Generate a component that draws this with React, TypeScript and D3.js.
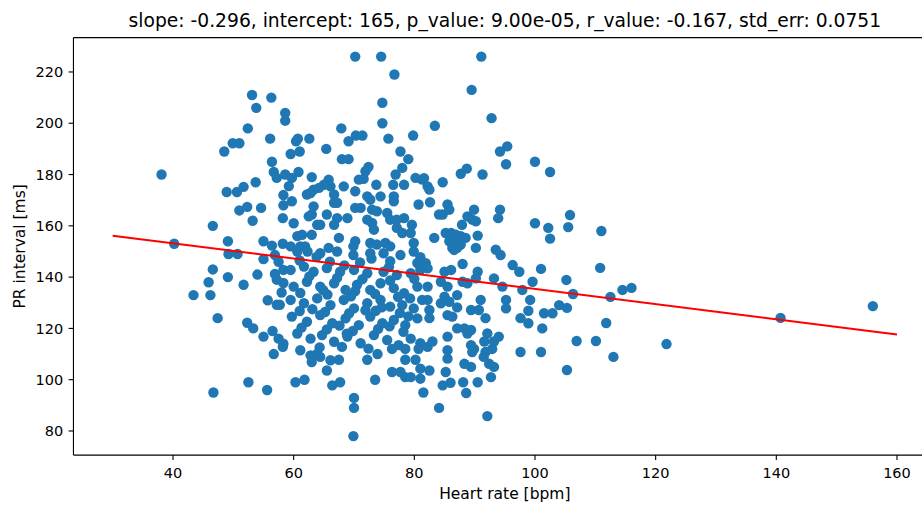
import React from "react";
import * as d3 from "d3";

// Heart rate [bpm] and PR interval [ms] per recording (same index = same subject)
const heartRate = [
  38.1, 40.2, 43.4, 45.9, 46.6, 46.7, 46.6, 47.4, 48.5, 48.9,
  49.1, 49.1, 49.9, 51.0, 49.2, 50.7, 53.1, 56.3, 53.8, 58.6,
  58.6, 52.4, 56.1, 56.4, 56.7, 57.2, 58.6, 50.6, 51.7, 53.7,
  58.3, 51.0, 52.3, 54.6, 58.3, 53.2, 58.2, 55.0, 56.4, 58.2,
  46.2, 51.7, 54.0, 55.0, 56.9, 57.5, 56.9, 57.2, 58.3, 58.3,
  55.7, 57.2, 57.7, 58.0, 52.3, 53.3, 55.0, 56.5, 57.5, 58.3,
  56.7, 58.2, 52.5, 55.6,
  70.2, 74.5, 76.7, 74.7, 74.7, 67.9, 69.1, 70.3, 71.4, 75.7,
  79.8, 77.7, 65.4, 62.6, 60.7, 60.4, 61.0, 59.5,
  91.1, 89.5, 92.8, 83.4, 95.4, 94.2,
  68.0, 69.1, 79.0, 72.4, 71.9, 70.8, 71.6, 78.0, 76.9, 80.2,
  81.3, 78.3, 76.5, 73.7, 60.8, 59.7, 63.0, 59.2, 65.8, 65.0,
  64.2, 63.3, 62.2, 62.8, 66.1, 66.7, 68.3, 70.2, 72.2, 72.7,
  74.4, 76.6, 76.6, 80.7, 66.7, 67.2, 63.3, 63.0, 62.5, 59.7,
  65.5, 67.2, 68.9, 70.2, 71.1, 73.0, 73.8, 72.2, 73.0, 73.3,
  75.5, 76.0, 77.1, 78.3, 79.6, 77.1, 78.0, 79.4, 60.0, 63.9,
  64.4, 66.7, 61.4, 60.6, 63.0, 67.5, 70.2, 69.9, 72.7, 73.8,
  75.2, 76.0, 79.9, 59.5, 61.1, 61.9, 65.8,
  95.2, 100.0, 102.5, 87.7, 88.7, 91.3, 81.6, 82.2, 82.5, 84.7,
  82.6, 85.5, 85.8, 84.1, 84.7, 89.9, 88.8, 89.6, 90.2, 87.9,
  94.2, 93.9, 100.0, 102.2, 102.5, 83.3, 85.2, 86.1, 86.9, 87.7,
  88.5, 90.5, 85.8, 86.9, 87.7, 86.3, 87.1, 90.2, 93.5,
  60.6, 62.3, 64.4, 67.2, 69.9, 72.7, 74.9, 77.7, 79.9, 81.0,
  59.5, 61.7, 63.3, 65.5, 67.7, 70.0, 72.2, 74.9, 77.1, 79.4, 81.0,
  60.0, 62.2, 64.4, 66.7, 68.6, 70.5, 72.7, 74.4, 76.6, 78.3, 80.5,
  59.5, 61.7, 63.9, 66.1, 68.3, 70.0, 72.2, 74.4, 76.0, 78.0, 79.9, 81.3,
  59.7, 62.2, 64.4, 66.4, 68.6, 70.8, 72.7, 74.7, 76.6, 78.5, 80.5,
  60.6, 62.8, 64.7, 66.7, 68.9, 71.1, 73.3, 75.5, 77.4, 79.4, 81.0,
  61.0, 66.0, 71.0, 76.0, 80.5, 62.6, 67.2, 71.4, 76.0, 80.0,
  61.1, 65.6, 69.5, 73.5, 77.3, 61.0, 65.2, 69.2, 73.6, 77.6,
  61.3, 65.5, 69.8, 74.0, 78.2,
  63.8, 68.4, 72.9, 75.8, 64.9, 70.2, 74.6, 79.0, 63.1, 67.6,
  71.9, 75.9, 64.3, 68.8, 72.4, 79.3,
  61.1, 62.8, 63.9, 64.4, 63.0, 66.1, 67.5, 65.5, 60.3, 61.8,
  66.4, 67.7, 70.0, 70.0, 69.9, 68.0, 72.2, 73.9, 73.5, 76.3,
  78.5, 80.7, 78.5, 80.2, 76.3, 77.7, 78.5, 79.4, 81.0, 81.0, 81.5,
  82.2, 85.5, 85.5, 89.9, 89.6, 91.8, 91.5, 92.9, 97.6, 101.0,
  82.5, 85.2, 88.3, 89.4, 92.4, 93.2, 84.7, 86.0, 88.1, 90.5,
  92.7, 88.6, 84.1, 92.1,
  86.6, 94.3, 88.0, 81.9, 82.2, 85.0, 86.1, 90.5, 90.2, 96.3,
  97.4, 101.0, 82.2, 84.4, 85.5, 88.0, 88.8, 93.2, 94.6, 97.9,
  99.6, 85.0, 84.4, 85.8, 87.1, 82.2, 82.5, 91.0, 95.2, 95.2,
  99.2, 98.9, 101.5, 102.9, 104.0, 85.5, 86.3, 87.1, 89.4, 90.7,
  91.8, 97.6, 98.9, 82.5, 101.2, 87.1, 88.3, 89.4, 88.8, 92.1,
  94.0, 85.5, 83.0, 91.6, 93.2, 89.4,
  105.8, 105.5, 105.2, 106.3, 105.3, 105.3, 106.9, 110.1, 110.8, 111.0,
  111.8, 112.5, 113.0, 114.5, 116.0, 121.8, 140.7, 156.0,
];

const prInterval = [
  180, 153, 133, 138, 143, 95, 160, 124, 189, 173.2,
  154, 140, 192.2, 192.2, 149, 149, 211, 210, 206, 204,
  201, 198, 194, 185, 181, 178.7, 180, 173.2, 175.2, 177,
  172, 166, 167.4, 167, 168, 162, 163, 154, 152.3, 153,
  133, 137, 141, 147, 148.6, 146, 141.2, 139, 142.8, 137.7,
  131, 129.2, 129.2, 134, 122.2, 120, 116.8, 119, 116, 114,
  110, 112.8, 99, 96,
  226, 226, 219, 208, 200, 198, 193, 195.2, 195.2, 194,
  195.2, 189, 190, 194, 194, 193, 189, 188,
  226, 213, 202, 199, 191, 189,
  186, 186, 186, 183, 181.3, 178, 178.3, 182.6, 180, 178.7,
  178, 176, 176, 176, 181, 178.7, 179, 175.5, 178, 176,
  174.8, 174.1, 172.2, 172.8, 175.4, 172.2, 175.4, 173.5, 171.5, 170.2,
  171.5, 171.5, 169.6, 168.3, 169, 169, 167.6, 164.4, 163.7, 169.6,
  164.4, 163, 163, 167, 167, 166.3, 165.7, 162.4, 161.1, 158.5,
  165, 162.4, 162.4, 163, 160.4, 159.2, 157.2, 157.2, 161, 160.4,
  160.4, 160.4, 156.5, 156, 156.5, 155.3, 154, 152, 153.3, 152.7,
  153.3, 152, 153.3, 152, 152, 152, 151.4,
  184, 185, 181, 180.3, 182.3, 180, 178.6, 175.4, 174.1, 177,
  169.2, 168.3, 166.3, 164.4, 164.4, 166.3, 163.7, 162.4, 161.8, 160.4,
  166.3, 163, 161, 159.2, 155, 155.3, 157.2, 157.2, 156.5, 156,
  155.3, 156.2, 154, 153.3, 152.7, 151.4, 151.4, 151.4, 150.7,
  150, 150, 149.3, 150, 148.6, 149.3, 149.3, 148.6, 150, 147.8,
  142.8, 144.1, 142.1, 143.5, 142.1, 142.8, 141.5, 142.1, 140.8, 141.5, 142.8,
  136.3, 138.2, 136.3, 137.6, 135, 137, 135, 137.6, 135.7, 133.7, 136.3,
  131.1, 129.8, 131.7, 129.1, 131.1, 127.8, 129.8, 131.1, 128.5, 129.1, 127.8, 131.1,
  124.6, 122.6, 125.2, 122, 123.9, 121.3, 124.6, 122, 123.3, 121.3, 123.9,
  118, 116, 117.4, 114.8, 116.8, 114.2, 117.4, 115.5, 113.5, 116, 114.2,
  146.5, 146, 145.7, 146.2, 145.5, 140.3, 139.7, 139.2, 138.7, 139.3,
  133.8, 133.2, 132.5, 133.4, 132.3, 126.8, 126.4, 125.9, 126.9, 126,
  120.3, 119.6, 119, 119.8, 118.7,
  147.9, 144.6, 147.2, 143.9, 134.9, 134.6, 128.2, 124.7, 127.5, 121.1,
  127.1, 120.8, 112.6, 117.9, 112.1, 131.7,
  111.5, 109.5, 110.1, 108.9, 106.9, 107.6, 107.8, 103.6, 99, 100,
  97.8, 99, 92.9, 89, 78, 112.8, 107.8, 110, 100, 112,
  112, 112, 107.8, 107.8, 103, 103, 101, 101, 104.3, 100.4, 95,
  112.8, 111.5, 108.2, 112, 110.8, 110.8, 108.9, 112, 110.8, 110.8,
  103.6, 103, 106.2, 105, 106.2, 105, 97.8, 98.8, 99, 99,
  101, 94.8, 89, 85.8,
  150.6, 148.6, 145.1, 145.4, 143.4, 142.1, 142.8, 142.1, 139.5, 144.7,
  142.1, 143.2, 136.3, 138.2, 136.3, 138.2, 137.6, 139.5, 136.3, 135,
  138.2, 132.4, 129.8, 130.4, 133, 131.1, 127.2, 131.1, 131.1, 127.8,
  131.1, 126.9, 125.9, 125.9, 129.1, 125.2, 124.6, 128.2, 127.2, 127.2,
  124, 124, 122, 124, 120, 120, 120, 119.4, 118, 118,
  116.8, 116.8, 114.9, 114.9, 114.9, 113.5,
  164.2, 159.5, 138.9, 133.4, 128, 103.8, 115.1, 115.1, 143.6, 158,
  122.1, 132.3, 108.9, 135, 135.8, 113.9, 124.1, 128.7,
];

// Least-squares fit reported in the title
const fitSlope = -0.296;
const fitIntercept = 165;
const fitPValue = "9.00e-05";
const fitRValue = -0.167;
const fitStdErr = 0.0751;
const fitX = [30, 160];

const xTicks = [40, 60, 80, 100, 120, 140, 160];
const yTicks = [80, 100, 120, 140, 160, 180, 200, 220];

const W = 922;
const H = 505;
const AX_LEFT = 73.45;
const AX_RIGHT = 936.2;
const AX_TOP = 37.6;
const AX_BOTTOM = 455.1;
const FONT = "'DejaVu Sans', sans-serif";
const BLUE = "#1f77b4";
const TICK_FONT = 14.5;
const LABEL_FONT = 15.5;
const TITLE_FONT = 18.7;

function padded(ext: [number, number]): [number, number] {
  const m = (ext[1] - ext[0]) * 0.05;
  return [ext[0] - m, ext[1] + m];
}

export default function App() {
  const fitY = fitX.map((v) => fitIntercept + fitSlope * v);
  const xExt = d3.extent(heartRate.concat(fitX)) as [number, number];
  const yExt = d3.extent(prInterval.concat(fitY)) as [number, number];
  const x = d3.scaleLinear().domain(padded(xExt)).range([AX_LEFT, AX_RIGHT]);
  const y = d3.scaleLinear().domain(padded(yExt)).range([AX_BOTTOM, AX_TOP]);

  const line = d3
    .line<number>()
    .x((v) => x(v))
    .y((v) => y(fitIntercept + fitSlope * v));

  const title = `slope: ${fitSlope}, intercept: ${fitIntercept}, p_value: ${fitPValue}, r_value: ${fitRValue}, std_err: ${fitStdErr}`;
  const tickLen = 4.86;
  const axisColor = "#000";

  return (
    <svg
      width={W}
      height={H}
      style={{ position: "absolute", left: 0, top: 0, background: "#fff" }}
      fontFamily={FONT}
    >
      <rect x={0} y={0} width={W} height={H} fill="#fff" />
      <g>
        {heartRate.map((hr, i) => (
          <circle key={i} cx={x(hr)} cy={y(prInterval[i])} r={5.2} fill={BLUE} />
        ))}
      </g>
      <path d={line(fitX) || ""} fill="none" stroke="#ff0000" strokeWidth={2.08} />

      {/* spines */}
      <line x1={AX_LEFT} x2={AX_LEFT} y1={AX_TOP} y2={AX_BOTTOM} stroke={axisColor} strokeWidth={1.11} />
      <line x1={AX_LEFT} x2={AX_RIGHT} y1={AX_BOTTOM} y2={AX_BOTTOM} stroke={axisColor} strokeWidth={1.11} />
      <line x1={AX_LEFT} x2={AX_RIGHT} y1={AX_TOP} y2={AX_TOP} stroke={axisColor} strokeWidth={1.11} />
      <line x1={AX_RIGHT} x2={AX_RIGHT} y1={AX_TOP} y2={AX_BOTTOM} stroke={axisColor} strokeWidth={1.11} />

      {/* x axis */}
      {xTicks.map((t) => (
        <g key={t}>
          <line x1={x(t)} x2={x(t)} y1={AX_BOTTOM} y2={AX_BOTTOM + tickLen} stroke={axisColor} strokeWidth={1.11} />
          <text x={x(t)} y={477.5} textAnchor="middle" fontSize={TICK_FONT} fill="#000">
            {t}
          </text>
        </g>
      ))}
      <text x={(AX_LEFT + AX_RIGHT) / 2} y={499} textAnchor="middle" fontSize={LABEL_FONT} fill="#000">
        Heart rate [bpm]
      </text>

      {/* y axis */}
      {yTicks.map((t) => (
        <g key={t}>
          <line x1={AX_LEFT - tickLen} x2={AX_LEFT} y1={y(t)} y2={y(t)} stroke={axisColor} strokeWidth={1.11} />
          <text x={AX_LEFT - 2 * tickLen - 0.5} y={y(t) + 5.2} textAnchor="end" fontSize={TICK_FONT} fill="#000">
            {t}
          </text>
        </g>
      ))}
      <text
        transform={`translate(24.5, ${(AX_TOP + AX_BOTTOM) / 2}) rotate(-90)`}
        textAnchor="middle"
        fontSize={LABEL_FONT}
        fill="#000"
      >
        PR interval [ms]
      </text>

      <text x={(AX_LEFT + AX_RIGHT) / 2} y={27} textAnchor="middle" fontSize={TITLE_FONT} fill="#000">
        {title}
      </text>
    </svg>
  );
}
